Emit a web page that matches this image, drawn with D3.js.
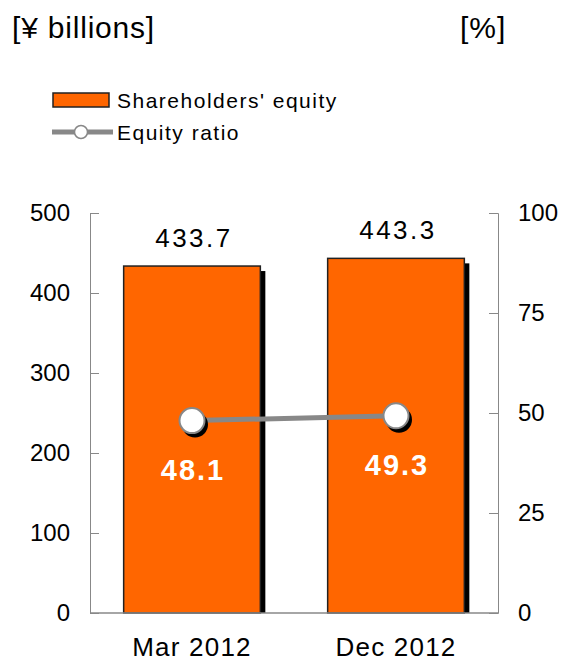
<!DOCTYPE html>
<html>
<head>
<meta charset="utf-8">
<script src="https://cdn.jsdelivr.net/npm/d3@7"></script>
<style>
  body { margin: 0; background: #fff; }
  svg text { font-family: "Liberation Sans", Arial, sans-serif; fill: #000; }
</style>
</head>
<body>
<svg id="chart" width="562" height="661"></svg>
<script>
const categories = ['Mar 2012', 'Dec 2012'];
const equity = [433.7, 443.3];
const ratio = [48.1, 49.3];
const leftTicks = [0, 100, 200, 300, 400, 500];
const rightTicks = [0, 25, 50, 75, 100];

const svg = d3.select('#chart');
const margin = { top: 213, left: 90, right: 64, bottom: 48 };
const width = 562 - margin.left - margin.right;
const height = 661 - margin.top - margin.bottom;
const g = svg.append('g').attr('transform', `translate(${margin.left},${margin.top})`);

const x = d3.scaleBand().domain(categories).range([0, width]).paddingInner(0.33).paddingOuter(0.165);
const y = d3.scaleLinear().domain([0, 500]).range([height, 0]);
const y2 = d3.scaleLinear().domain([0, 100]).range([height, 0]);

// unit labels
svg.append('text').attr('x', 12).attr('y', 38).attr('font-size', 30).attr('letter-spacing', 0.8).text('[¥ billions]');
svg.append('text').attr('x', 460).attr('y', 38).attr('font-size', 30).attr('letter-spacing', 1).text('[%]');

// legend
const legend = svg.append('g');
legend.append('rect').attr('x', 53).attr('y', 93).attr('width', 56).attr('height', 14)
  .attr('fill', '#ff6600').attr('stroke', '#222').attr('stroke-width', 1.5);
legend.append('text').attr('x', 117).attr('y', 108).attr('font-size', 21)
  .attr('letter-spacing', 1.5).text("Shareholders' equity");
legend.append('line').attr('x1', 52).attr('x2', 113).attr('y1', 132).attr('y2', 132)
  .attr('stroke', '#888').attr('stroke-width', 5);
legend.append('circle').attr('cx', 81).attr('cy', 132).attr('r', 6.5)
  .attr('fill', '#fff').attr('stroke', '#888').attr('stroke-width', 1.5);
legend.append('text').attr('x', 117).attr('y', 140).attr('font-size', 21)
  .attr('letter-spacing', 1.5).text('Equity ratio');

// axes
const axisL = g.append('g')
  .call(d3.axisLeft(y).tickValues(leftTicks).tickSize(-9).tickPadding(20));
axisL.select('.domain').attr('stroke', '#888');
axisL.selectAll('.tick line').attr('stroke', '#888');
axisL.selectAll('.tick text').attr('font-size', 24).attr('font-family', '"Liberation Sans", Arial, sans-serif');

const axisR = g.append('g').attr('transform', `translate(${width},0)`)
  .call(d3.axisRight(y2).tickValues(rightTicks).tickSize(-9).tickPadding(20));
axisR.select('.domain').attr('stroke', '#888');
axisR.selectAll('.tick line').attr('stroke', '#888');
axisR.selectAll('.tick text').attr('font-size', 24).attr('font-family', '"Liberation Sans", Arial, sans-serif');

// bar shadows
g.selectAll('.shadow')
  .data(equity)
  .enter()
  .append('rect')
  .attr('class', 'shadow')
  .attr('x', (d, i) => x(categories[i]) + 5)
  .attr('y', d => y(d) + 5)
  .attr('width', x.bandwidth())
  .attr('height', d => height - y(d) - 5)
  .attr('fill', '#000');

// bars
g.selectAll('.bar')
  .data(equity)
  .enter()
  .append('rect')
  .attr('class', 'bar')
  .attr('x', (d, i) => x(categories[i]))
  .attr('y', d => y(d))
  .attr('width', x.bandwidth())
  .attr('height', d => height - y(d))
  .attr('fill', '#ff6600')
  .attr('stroke', '#222')
  .attr('stroke-width', 1.5);

// baseline
g.append('line').attr('x1', 0).attr('x2', width).attr('y1', height).attr('y2', height)
  .attr('stroke', '#888').attr('stroke-width', 1.5);

// bar value labels
g.selectAll('.bar-label')
  .data(equity)
  .enter()
  .append('text')
  .attr('class', 'bar-label')
  .attr('x', (d, i) => x(categories[i]) + x.bandwidth() / 2 + 2)
  .attr('y', d => y(d) - 19)
  .attr('text-anchor', 'middle')
  .attr('font-size', 26)
  .attr('letter-spacing', 2.5)
  .text(d => d.toFixed(1));

// ratio line
const cx = (d, i) => x(categories[i]) + x.bandwidth() / 2;
const line = d3.line()
  .x((d, i) => cx(d, i))
  .y(d => y2(d));

g.append('path')
  .datum(ratio)
  .attr('fill', 'none')
  .attr('stroke', '#888')
  .attr('stroke-width', 5)
  .attr('d', line);

g.selectAll('.dot-shadow')
  .data(ratio)
  .enter()
  .append('circle')
  .attr('cx', (d, i) => cx(d, i) + 3)
  .attr('cy', d => y2(d) + 4)
  .attr('r', 13)
  .attr('fill', '#000');

g.selectAll('.dot')
  .data(ratio)
  .enter()
  .append('circle')
  .attr('class', 'dot')
  .attr('cx', (d, i) => cx(d, i))
  .attr('cy', d => y2(d))
  .attr('r', 12.5)
  .attr('fill', '#fff')
  .attr('stroke', '#888')
  .attr('stroke-width', 2);

g.selectAll('.ratio-label')
  .data(ratio)
  .enter()
  .append('text')
  .attr('x', (d, i) => cx(d, i) + 1)
  .attr('y', d => y2(d) + 59)
  .attr('text-anchor', 'middle')
  .attr('font-size', 29)
  .attr('font-weight', 'bold')
  .attr('letter-spacing', 2)
  .style('fill', '#fff')
  .text(d => d.toFixed(1));

// category labels
g.selectAll('.cat')
  .data(categories)
  .enter()
  .append('text')
  .attr('x', d => x(d) + x.bandwidth() / 2)
  .attr('y', height + 43)
  .attr('text-anchor', 'middle')
  .attr('font-size', 26)
  .attr('letter-spacing', 1.2)
  .text(d => d);
</script>
</body>
</html>
